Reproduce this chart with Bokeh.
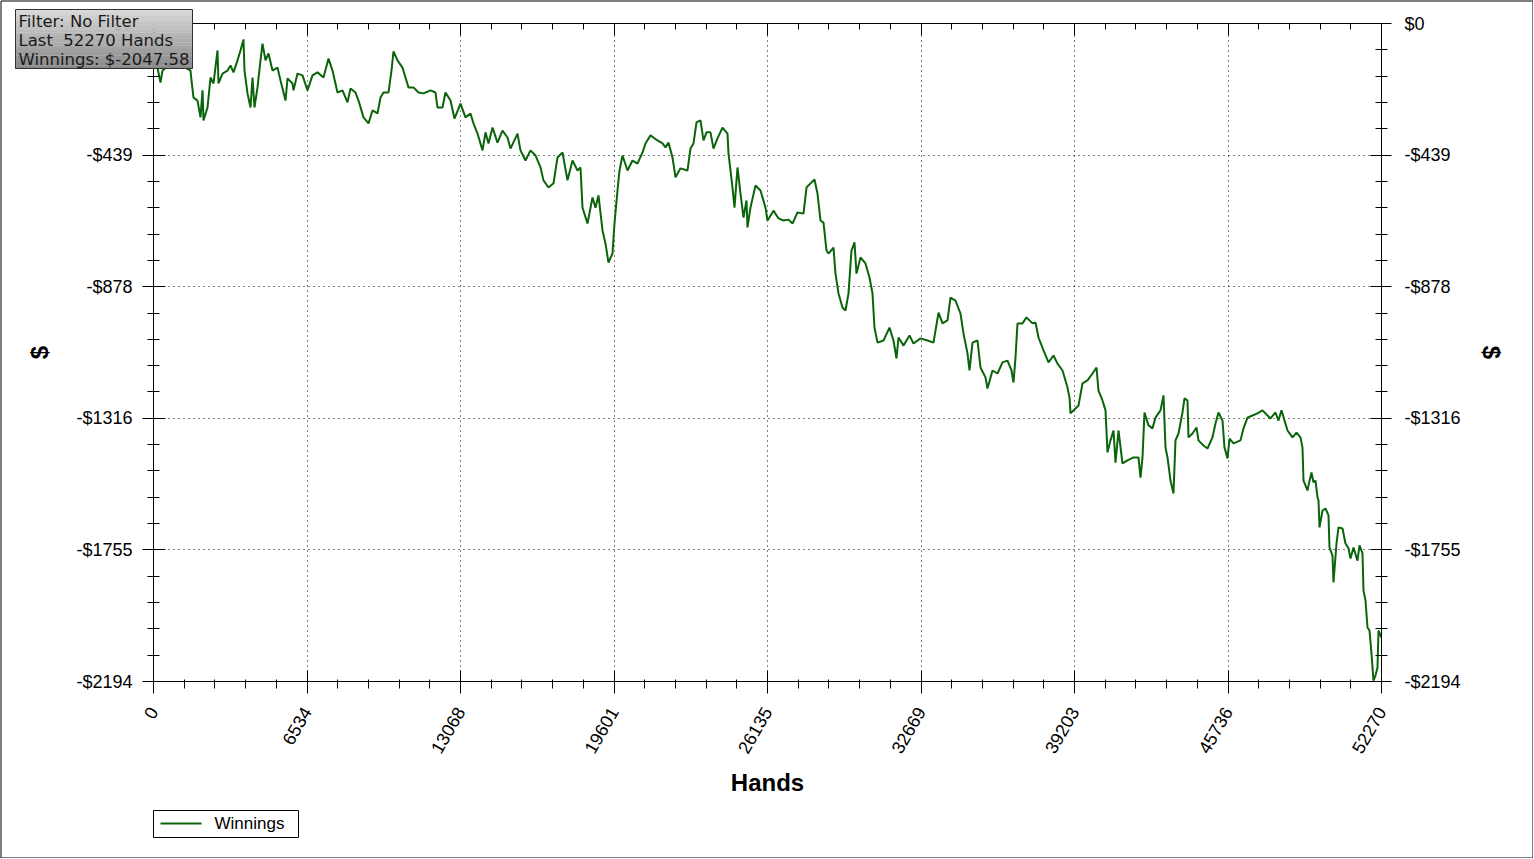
import numpy as np
from bokeh.plotting import figure
from bokeh.models import Range1d, LinearAxis, FixedTicker
from bokeh.core.properties import value
from bokeh.embed import file_html
from bokeh.resources import INLINE
import math

# ---------------- data (hands played, cumulative winnings in $) ----------------
hands = [0, 170, 298, 383, 936, 1362, 1575, 1617, 1703, 1873, 2001, 2086, 2128, 2299, 2426, 2554,
         2724, 2767, 2937, 3150, 3278, 3405, 3575, 3703, 3831, 3873, 4001, 4129, 4214, 4299, 4427,
         4554, 4640, 4767, 4895, 5065, 5278, 5406, 5619, 5704, 5917, 5959, 6129, 6342, 6555, 6768,
         6981, 7236, 7449, 7619, 7832, 8045, 8258, 8385, 8598, 8726, 8939, 9151, 9322, 9535, 9662,
         9790, 10003, 10130, 10216, 10386, 10599, 10726, 10854, 11067, 11280, 11493, 11791, 12003,
         12088, 12301, 12429, 12642, 12812, 13067, 13280, 13493, 13621, 13791, 14004, 14132, 14259,
         14430, 14642, 14855, 15068, 15196, 15494, 15621, 15834, 16047, 16260, 16473, 16600, 16813,
         17026, 17196, 17409, 17622, 17835, 18048, 18175, 18260, 18473, 18686, 18814, 18941, 19112,
         19239, 19367, 19537, 19622, 19750, 19835, 19963, 20176, 20389, 20601, 20814, 20942, 21155,
         21453, 21666, 21793, 21921, 22091, 22219, 22432, 22730, 22857, 22985, 23113, 23283, 23411,
         23538, 23708, 23836, 24007, 24219, 24432, 24475, 24645, 24730, 24858, 24986, 25113, 25241,
         25284, 25411, 25624, 25837, 26050, 26135, 26390, 26603, 26816, 27029, 27199, 27412, 27667,
         27795, 27965, 28135, 28263, 28391, 28519, 28646, 28731, 28944, 29029, 29157, 29327, 29455,
         29583, 29710, 29838, 29923, 30093, 30306, 30477, 30604, 30689, 30817, 31072, 31328, 31498,
         31626, 31711, 31924, 32179, 32349, 32647, 32945, 33201, 33414, 33584, 33797, 33924, 34137,
         34350, 34478, 34648, 34733, 34861, 35074, 35201, 35414, 35499, 35712, 35925, 36138, 36351,
         36521, 36606, 36691, 36776, 36989, 37159, 37415, 37542, 37670, 37883, 38096, 38309, 38479,
         38692, 38905, 38990, 39032, 39245, 39373, 39543, 39756, 39969, 40139, 40224, 40394, 40522,
         40607, 40735, 40862, 40948, 41075, 41245, 41458, 41714, 41927, 42012, 42097, 42182, 42352,
         42522, 42650, 42863, 42991, 43076, 43161, 43289, 43416, 43501, 43629, 43799, 43885, 44012,
         44055, 44225, 44395, 44480, 44693, 44864, 45076, 45204, 45332, 45502, 45587, 45715, 45800,
         45970, 46268, 46396, 46566, 46779, 46992, 47205, 47418, 47545, 47758, 47886, 48013, 48269,
         48482, 48652, 48822, 48907, 48950, 49120, 49163, 49290, 49375, 49461, 49546, 49588, 49631,
         49758, 49886, 50014, 50056, 50184, 50227, 50354, 50440, 50610, 50737, 50865, 50950, 51078,
         51248, 51333, 51461, 51504, 51589, 51674, 51759, 51844, 51929, 52014, 52100, 52142, 52270]

winnings = [0, -147, -197, -157, -123, -147, -157, -190, -247, -257, -313, -223, -323, -280, -180, -200,
            -90, -200, -167, -157, -140, -163, -123, -90, -53, -157, -233, -280, -180, -280, -213,
            -123, -67, -123, -100, -157, -147, -190, -257, -183, -200, -223, -167, -173, -223, -173,
            -163, -180, -117, -157, -230, -223, -263, -217, -230, -257, -313, -333, -290, -300, -247,
            -230, -230, -157, -93, -123, -147, -180, -213, -213, -230, -233, -223, -230,
            -280, -280, -230, -257, -317, -267, -313, -300, -333, -367, -423, -363, -400,
            -347, -397, -357, -380, -417, -367, -423, -457, -423, -440, -480, -523, -547,
            -533, -447, -430, -523, -457, -490, -480, -614, -667, -580, -614, -573, -690,
            -734, -797, -767, -667, -557, -490, -440, -490, -457, -467, -430, -400, -373,
            -390, -400, -413, -397, -447, -513, -483, -490, -417, -400, -330, -323, -390,
            -363, -363, -417, -383, -347, -367, -433, -547, -614, -480, -567, -647, -590,
            -680, -614, -540, -557, -614, -657, -624, -650, -657, -654, -667, -630, -634,
            -547, -533, -520, -567, -657, -664, -757, -767, -747, -834, -900, -947, -957,
            -900, -757, -730, -834, -780, -800, -847, -900, -1014, -1064, -1057, -1014, -1057,
            -1117, -1047, -1074, -1040, -1067, -1050, -1057, -1064, -964, -1000, -990, -914, -924,
            -967, -1034, -1100, -1157, -1064, -1057, -1147, -1180, -1217, -1157, -1167, -1130, -1124,
            -1157, -1197, -1114, -1000, -1000, -980, -1000, -997, -1047, -1090, -1130, -1107, -1134,
            -1157, -1214, -1247, -1300, -1284, -1274, -1200, -1190, -1167, -1147, -1224, -1257, -1290,
            -1430, -1390, -1357, -1464, -1357, -1467, -1457, -1447, -1447, -1514, -1447, -1297, -1340,
            -1350, -1314, -1290, -1240, -1414, -1447, -1524, -1567, -1390, -1367, -1297, -1250, -1257,
            -1380, -1367, -1347, -1390, -1407, -1417, -1380, -1334, -1297, -1324, -1414, -1450, -1384,
            -1400, -1390, -1350, -1314, -1307, -1300, -1290, -1307, -1317, -1297, -1324, -1290, -1357,
            -1380, -1364, -1380, -1414, -1524, -1557, -1540, -1497, -1530, -1524, -1580, -1590, -1680,
            -1624, -1617, -1640, -1747, -1774, -1864, -1734, -1680, -1684, -1734, -1750, -1784, -1747,
            -1791, -1740, -1767, -1891, -1924, -2014, -2024, -2101, -2191, -2174, -2147, -2024, -2047.58]

x_ticks = [0, 6533.75, 13067.5, 19601.25, 26135, 32668.75, 39202.5, 45736.25, 52270]
x_tick_labels = ["0", "6534", "13068", "19601", "26135", "32669", "39203", "45736", "52270"]
y_ticks = [0, -438.8, -877.6, -1316.4, -1755.2, -2194]
y_tick_labels = ["$0", "-$439", "-$878", "-$1316", "-$1755", "-$2194"]

info_lines = ["Filter: No Filter", "Last \u00a052270 Hands", "Winnings: $-2047.58"]
series_name = "Winnings"
x_title = "Hands"
y_title = "$"

# ---------------- figure ----------------
W, H = 1533, 858
FL, FT = 153, 23
FW, FH = 1228, 658
FR, FB = W - FL - FW, H - FT - FH

p = figure(frame_width=FW, frame_height=FH, output_backend="svg", toolbar_location=None,
           x_range=Range1d(x_ticks[0], x_ticks[-1]), y_range=Range1d(y_ticks[-1], y_ticks[0]),
           min_border_left=FL, min_border_right=FR, min_border_top=FT, min_border_bottom=FB,
           x_axis_location=None, y_axis_location=None)
p.background_fill_color = "white"
p.border_fill_color = "white"
p.outline_line_color = "black"
p.outline_line_width = 1

x_minor = sorted(set(np.round(np.linspace(x_ticks[0], x_ticks[-1], 41), 4).tolist()))
y_minor = sorted(set(np.round(np.linspace(y_ticks[-1], y_ticks[0], 26), 4).tolist()))
xticker = FixedTicker(ticks=x_ticks, minor_ticks=x_minor)
yticker = FixedTicker(ticks=y_ticks, minor_ticks=y_minor)

FONT = "Liberation Sans"


def style_axis(ax):
    ax.axis_line_color = "black"
    ax.major_tick_line_color = "black"
    ax.minor_tick_line_color = "black"
    ax.major_label_text_font = FONT
    ax.major_label_text_font_size = "18px"
    ax.major_label_text_color = "black"
    ax.axis_label_text_font = FONT
    ax.axis_label_text_font_size = "24px"
    ax.axis_label_text_font_style = "bold"
    ax.axis_label_text_color = "black"


bottom = LinearAxis(ticker=xticker, axis_label=x_title,
                    major_label_overrides={t: l for t, l in zip(x_ticks, x_tick_labels)})
style_axis(bottom)
bottom.major_tick_in = 11
bottom.major_tick_out = 12
bottom.minor_tick_in = 2
bottom.minor_tick_out = 7
bottom.major_label_orientation = math.radians(60)
bottom.major_label_standoff = 15
bottom.axis_label_standoff = 8
p.add_layout(bottom, "below")

top = LinearAxis(ticker=xticker)
style_axis(top)
top.major_label_text_color = None
top.major_tick_in = 12
top.major_tick_out = 0
top.minor_tick_in = 6
top.minor_tick_out = 0
top.major_label_standoff = 0
p.add_layout(top, "above")

left = LinearAxis(ticker=yticker, axis_label=y_title,
                  major_label_overrides={t: l for t, l in zip(y_ticks, y_tick_labels)})
style_axis(left)
left.major_tick_in = 12
left.major_tick_out = 11
left.minor_tick_in = 6
left.minor_tick_out = 6
left.major_label_standoff = 10
left.axis_label_standoff = 20
p.add_layout(left, "left")

right = LinearAxis(ticker=yticker, axis_label=y_title,
                   major_label_overrides={t: l for t, l in zip(y_ticks, y_tick_labels)})
style_axis(right)
right.major_tick_in = 11
right.major_tick_out = 10
right.minor_tick_in = 6
right.minor_tick_out = 6
right.major_label_standoff = 13
right.axis_label_standoff = 14
p.add_layout(right, "right")

p.xgrid.ticker = xticker
p.ygrid.ticker = yticker
for g in (p.xgrid, p.ygrid):
    g.grid_line_color = "black"
    g.grid_line_dash = "1 4"
    g.grid_line_width = 1
    g.grid_line_alpha = 1.0

# ---------------- the series ----------------
LINE_COLOR = "#0a640a"
p.line(hands, winnings, line_color=LINE_COLOR, line_width=2)

# pixel -> data helpers for the decorations that sit outside the frame
dx = (x_ticks[-1] - x_ticks[0]) / FW      # hands per pixel
dy = (y_ticks[0] - y_ticks[-1]) / FH      # dollars per pixel


def px(x_pix):   # x offset in pixels from the frame's left edge -> data x
    return x_ticks[0] + x_pix * dx


def py(y_pix):   # y offset in pixels from the frame's top edge (down is positive) -> data y
    return y_ticks[0] - y_pix * dy


# ---------------- image border ----------------
p.quad(left=[px(-152.5)], right=[px(1379.5)], top=[py(-22.5)], bottom=[py(834.5)],
       fill_color=None, line_color="black", line_width=1, level="overlay")

# ---------------- legend (below the axis title) ----------------
p.quad(left=[px(0)], right=[px(145)], top=[py(787)], bottom=[py(814)],
       fill_color="white", line_color="black", line_width=1, level="overlay")
p.line([px(7), px(48)], [py(800), py(800)], line_color=LINE_COLOR, line_width=2, level="overlay")
p.text(x=[px(61)], y=[py(800)], text=[series_name], text_font=value(FONT),
       text_font_size="17px", text_color="black", text_baseline="middle", text_align="left",
       level="overlay")

# ---------------- info box (top-left, gradient grey), drawn above the axes ----------------
box_left, box_right = px(-138), px(39)
box_top, box_bottom = py(-14), py(45)
n_bands = 18
c0, c1 = np.array([216, 216, 216]), np.array([138, 138, 138])
band_edges = np.linspace(box_top, box_bottom, n_bands + 1)
band_cols = ["#%02x%02x%02x" % tuple((c0 + (c1 - c0) * i / (n_bands - 1)).astype(int))
             for i in range(n_bands)]
p.quad(left=[box_left] * n_bands, right=[box_right] * n_bands,
       top=band_edges[:-1].tolist(), bottom=(band_edges[1:] - 0.3 * dy).tolist(),
       fill_color=band_cols, line_color=None, level="overlay")
p.quad(left=[box_left], right=[box_right], top=[box_top], bottom=[box_bottom],
       fill_color=None, line_color="#303030", line_width=1, level="overlay")
p.text(x=[px(-135)] * 3, y=[py(-12 + 19 * i) for i in range(3)], text=info_lines,
       text_font=value("DejaVu Sans"), text_font_size="16.5px", text_color="#1a1a1a",
       text_baseline="top", text_align="left", level="overlay")

open("out.html", "w").write(file_html(p, INLINE))
